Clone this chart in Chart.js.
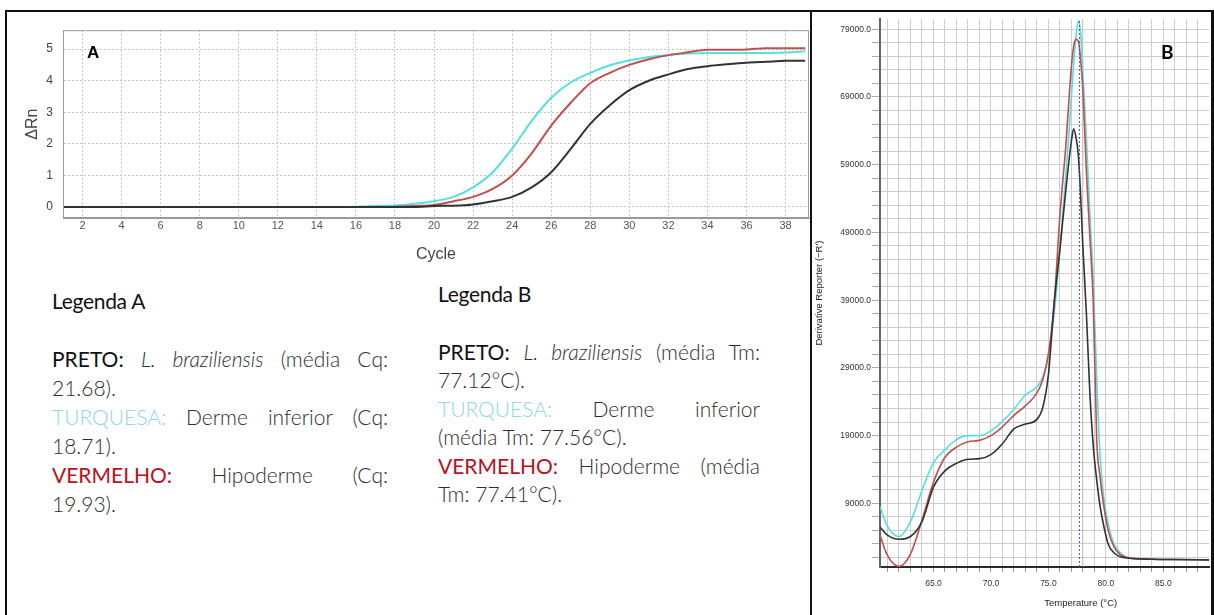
<!DOCTYPE html>
<html>
<head>
<meta charset="utf-8">
<script src="https://cdn.jsdelivr.net/npm/chart.js@4.4.1/dist/chart.umd.min.js"></script>
<style>
  html, body { margin: 0; padding: 0; background: #fff; }
  #page { position: relative; width: 1214px; height: 615px; overflow: hidden; font-family: Lato, "Open Sans", sans-serif; }
  #frame { position: absolute; left: 5px; top: 10px; width: 1209px; height: 620px; box-sizing: border-box;
           border: 2px solid #111; border-right-width: 3px; }
  #divider { position: absolute; left: 810px; top: 10px; width: 2px; height: 610px; background: #111; }
  canvas { position: absolute; }
  #ampChart { left: 8px; top: 13px; }
  #meltChart { left: 812px; top: 13px; }
  .panel-tag { position: absolute; font-weight: bold; color: #000; line-height: 1; }
  .head { position: absolute; font-size: 21px; line-height: 20px; color: #111; white-space: nowrap; letter-spacing: -0.3px; }
  .legend { position: absolute; font-size: 21px; color: #2e2e2e; font-weight: 300; }
  .legend div { white-space: nowrap; }
  .legend .j { text-align: justify; text-align-last: justify; }
  .k { font-weight: 400; color: #111; }
  .cy { color: #8fd9e8; }
  .rd { color: #b8121c; font-weight: 400; }
</style>
</head>
<body>
<div id="page">
  <div id="frame"></div>
  <div id="divider"></div>
  <canvas id="ampChart" width="805" height="255"></canvas>
  <canvas id="meltChart" width="398" height="602"></canvas>

  <div class="panel-tag" style="left:87px; top:44px; font-family:'Liberation Sans', Arial, sans-serif; font-size:17px;">A</div>
  <div class="panel-tag" style="left:1161px; top:42px; font-size:19px;">B</div>

  <div class="head" style="left:52px; top:291px;">Legenda A</div>
  <div class="legend" style="left:52px; top:344px; width:336px; line-height:29px;">
    <div class="j"><span class="k">PRETO:</span> <i>L. braziliensis</i> (média Cq:</div>
    <div>21.68).</div>
    <div class="j"><span class="cy">TURQUESA:</span> Derme inferior (Cq:</div>
    <div>18.71).</div>
    <div class="j"><span class="rd">VERMELHO:</span> Hipoderme (Cq:</div>
    <div>19.93).</div>
  </div>

  <div class="head" style="left:438px; top:284px;">Legenda B</div>
  <div class="legend" style="left:438px; top:338px; width:322px; line-height:28.4px;">
    <div class="j"><span class="k">PRETO:</span> <i>L. braziliensis</i> (média Tm:</div>
    <div>77.12°C).</div>
    <div class="j"><span class="cy">TURQUESA:</span> Derme inferior</div>
    <div>(média Tm: 77.56°C).</div>
    <div class="j"><span class="rd">VERMELHO:</span> Hipoderme (média</div>
    <div>Tm: 77.41°C).</div>
  </div>
</div>

<script>
// amplification plot (A): delta Rn per cycle
const cycles = [1, 2, 3, 4, 5, 6, 7, 8, 9, 10, 11, 12, 13, 14, 15, 16, 17, 18, 19, 20,
                21, 22, 23, 24, 25, 26, 27, 28, 29, 30, 31, 32, 33, 34, 35, 36, 37, 38, 39];
const rnBlack = [0, 0, 0, 0, 0, 0, 0, 0, 0, 0, 0, 0, 0, 0, 0, 0, 0, 0, 0, 0.03,
                 0.04, 0.08, 0.18, 0.32, 0.62, 1.10, 1.84, 2.63, 3.22, 3.70, 4.00, 4.20, 4.37, 4.46, 4.52, 4.57, 4.60, 4.63, 4.63];
const rnCyan = [0, 0, 0, 0, 0, 0, 0, 0, 0, 0, 0, 0, 0, 0, 0, 0.01, 0.03, 0.05, 0.10, 0.18,
                0.32, 0.62, 1.10, 1.85, 2.73, 3.46, 3.95, 4.25, 4.49, 4.64, 4.75, 4.81, 4.86, 4.88, 4.88, 4.88, 4.88, 4.89, 4.93];
const rnRed = [0, 0, 0, 0, 0, 0, 0, 0, 0, 0, 0, 0, 0, 0, 0, 0, 0, 0.01, 0.03, 0.06,
               0.18, 0.32, 0.57, 1.00, 1.70, 2.58, 3.30, 3.92, 4.25, 4.50, 4.68, 4.81, 4.90, 4.98, 4.98, 4.99, 5.03, 5.03, 5.03];
const cycleTicks = [2, 4, 6, 8, 10, 12, 14, 16, 18, 20, 22, 24, 26, 28, 30, 32, 34, 36, 38];
const rnTicks = [0, 1, 2, 3, 4, 5];

// melt curve (B): derivative reporter vs temperature
const temps = [60.35, 61, 62, 63, 64, 65, 66, 67, 68, 69, 70, 71, 72, 73, 74, 74.5, 75, 75.5, 76, 76.5,
               77, 77.2, 77.4, 77.6, 77.8, 78, 78.3, 78.6, 78.9, 79.2, 79.5, 79.8, 80.2, 80.7, 81.2, 82, 84, 86, 88.97];
const derivBlack = [5500, 4300, 3700, 4100, 6300, 11400, 13800, 14900, 15500, 15600, 16200, 17800, 20000, 20700, 21400, 23100, 28000, 38500, 46500, 55000,
                    62500, 64300, 63000, 60500, 54500, 46800, 37200, 25500, 17500, 12500, 8500, 5800, 3000, 1700, 1150, 900, 750, 700, 650];
const derivCyan = [8500, 5600, 4100, 6300, 10900, 15000, 16900, 18400, 19000, 19000, 19700, 21100, 22900, 25000, 26200, 27600, 31000, 37000, 46500, 57000,
                   69000, 74000, 78000, 80300, 78500, 72500, 63000, 52000, 42000, 27500, 16000, 10000, 6000, 3000, 1800, 950, 750, 700, 650];
const derivRed = [4300, 1300, -300, 1500, 6500, 12100, 15800, 17300, 18100, 18300, 19000, 20300, 22000, 23400, 25300, 27200, 31000, 38500, 51500, 61500,
                  73500, 76500, 77500, 77300, 74500, 70000, 58200, 48500, 38700, 18500, 12800, 8800, 5000, 2600, 1500, 950, 750, 700, 650];
const tempTicks = [65, 70, 75, 80, 85];
const derivTicks = [9000, 19000, 29000, 39000, 49000, 59000, 69000, 79000];
const cursorTemp = 77.7;
const markerTemp = 78.0;

const DARK = '#333333', CYAN = '#55e0df', RED = '#c0504d';
const axisFont = '"Liberation Sans", Arial, sans-serif';
Chart.defaults.font.family = axisFont;
Chart.defaults.animation = false;

function pairs(xs, ys) {
  return xs.map((x, i) => ({ x: x, y: ys[i] }));
}
function curve(xs, ys, color, width) {
  return { data: pairs(xs, ys), borderColor: color, borderWidth: width, pointRadius: 0,
           cubicInterpolationMode: 'monotone', fill: false };
}

// gray box round the plot area of the amplification chart
const plotFrame = {
  id: 'plotFrame',
  afterDatasetsDraw(chart) {
    const { ctx, chartArea: a } = chart;
    ctx.save();
    ctx.strokeStyle = '#9a9a9a';
    ctx.lineWidth = 1;
    ctx.strokeRect(a.left + 0.5, a.top + 0.5, a.right - a.left - 1, a.bottom - a.top - 1);
    ctx.restore();
  }
};

new Chart(document.getElementById('ampChart'), {
  type: 'line',
  data: {
    datasets: [
      curve(cycles, rnBlack, DARK, 2),
      curve(cycles, rnRed, RED, 2),
      curve(cycles, rnCyan, CYAN, 2)
    ]
  },
  plugins: [plotFrame],
  options: {
    responsive: false,
    animation: false,
    layout: { padding: { top: 3, right: 4, left: 0, bottom: 0 } },
    plugins: { legend: { display: false }, tooltip: { enabled: false } },
    scales: {
      x: {
        type: 'linear', min: 1, max: 39.2,
        afterBuildTicks: s => { s.ticks = cycleTicks.map(v => ({ value: v })); },
        afterFit: s => { s.height = 50; },
        ticks: { autoSkip: false, maxRotation: 0, padding: 1, color: '#555', font: { size: 11 } },
        grid: { color: '#c4c4c4', drawTicks: false },
        border: { color: '#9a9a9a', dash: [2, 2] },
        title: { display: true, text: 'Cycle', color: '#444', font: { size: 16 }, padding: { top: 0, bottom: 4 } }
      },
      y: {
        type: 'linear', min: -0.35, max: 5.6,
        afterBuildTicks: s => { s.ticks = rnTicks.map(v => ({ value: v })); },
        afterFit: s => { s.width = 55; },
        ticks: { padding: 10, color: '#444', font: { size: 12 } },
        grid: { color: '#c4c4c4', drawTicks: false },
        border: { color: '#9a9a9a', dash: [2, 2] },
        title: { display: true, text: 'ΔRn', color: '#444', font: { size: 16 }, padding: { top: 15, bottom: 0 } }
      }
    }
  }
});

// axis caption under the melt curve, set right of centre
const tempCaption = {
  id: 'tempCaption',
  afterDraw(chart) {
    const { ctx, chartArea: a } = chart;
    ctx.save();
    ctx.font = '9.5px ' + axisFont;
    ctx.fillStyle = '#222';
    ctx.textAlign = 'center';
    ctx.textBaseline = 'middle';
    ctx.fillText('Temperature (°C)', a.left + (a.right - a.left) * 0.61, chart.height - 12);
    ctx.restore();
  }
};

const yLow = -400, yHigh = 80500;
new Chart(document.getElementById('meltChart'), {
  type: 'line',
  data: {
    datasets: [
      { data: [{ x: cursorTemp, y: yLow }, { x: cursorTemp, y: yHigh }], borderColor: '#2f62c0',
        borderWidth: 1, borderDash: [2, 2], pointRadius: 0 },
      curve(temps, derivBlack, DARK, 1.6),
      curve(temps, derivRed, RED, 1.6),
      curve(temps, derivCyan, CYAN, 1.6),
      { data: [{ x: markerTemp, y: yLow }, { x: markerTemp, y: yHigh }], borderColor: 'rgba(235,175,150,0.6)',
        borderWidth: 1, pointRadius: 0 }
    ]
  },
  plugins: [tempCaption],
  options: {
    responsive: false,
    animation: false,
    layout: { padding: { top: 2, right: 1, left: 0, bottom: 0 } },
    plugins: { legend: { display: false }, tooltip: { enabled: false } },
    scales: {
      x: {
        type: 'linear', min: 60.35, max: 88.97,
        afterBuildTicks: s => {
          const t = [];
          for (let v = 61; v <= 88; v++) t.push({ value: v });
          s.ticks = t;
        },
        afterFit: s => { s.height = 48; },
        ticks: { autoSkip: false, maxRotation: 0, padding: 7, color: '#333', font: { size: 8.5 },
                 callback: v => tempTicks.includes(v) ? v.toFixed(1) : '' },
        grid: { color: '#cdcdcd', tickLength: 5, tickColor: '#999' },
        border: { color: '#2a2a2a', width: 2 }
      },
      y: {
        type: 'linear', min: yLow, max: yHigh,
        afterBuildTicks: s => {
          const t = [];
          for (let v = 1000; v <= 79000; v += 2000) t.push({ value: v });
          s.ticks = t;
        },
        afterFit: s => { s.width = 68; },
        ticks: { autoSkip: false, padding: 1, color: '#333', font: { size: 8.5 },
                 callback: v => derivTicks.includes(v) ? v.toFixed(1) : '' },
        grid: { color: '#cdcdcd', tickLength: 8, tickColor: '#aaa' },
        border: { color: '#666', width: 2 },
        title: { display: true, text: "Derivative Reporter (−R')", color: '#222', font: { size: 9.5 },
                 padding: { top: 2, bottom: 0 } }
      }
    }
  }
});
</script>
</body>
</html>
